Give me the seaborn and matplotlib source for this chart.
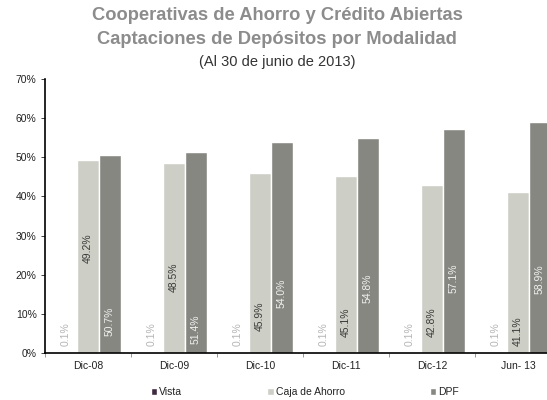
import matplotlib
matplotlib.use('Agg')
import matplotlib.pyplot as plt
import seaborn as sns
import pandas as pd
from matplotlib.ticker import FuncFormatter

periods = ['Dic-08', 'Dic-09', 'Dic-10', 'Dic-11', 'Dic-12', 'Jun- 13']
series = ['Vista', 'Caja de Ahorro', 'DPF']
vista = [0.1, 0.1, 0.1, 0.1, 0.1, 0.1]
caja = [49.2, 48.5, 45.9, 45.1, 42.8, 41.1]
dpf = [50.7, 51.4, 54.0, 54.8, 57.1, 58.9]

# where the labels sit inside the bars (value units), as in the original
label_pos = {
    'Vista': [4.9, 4.9, 4.9, 4.9, 4.9, 4.9],
    'Caja de Ahorro': [26.9, 19.4, 9.5, 7.9, 7.9, 5.6],
    'DPF': [8.2, 6.1, 15.3, 16.6, 19.2, 18.9],
}
label_colors = {'Vista': '#b4b4b4', 'Caja de Ahorro': '#3a3a3a', 'DPF': '#f0f0f0'}
palette = {'Vista': '#3f2a40', 'Caja de Ahorro': '#cdcec5', 'DPF': '#878782'}

df = pd.DataFrame({
    'periodo': periods * 3,
    'serie': ['Vista'] * 6 + ['Caja de Ahorro'] * 6 + ['DPF'] * 6,
    'valor': vista + caja + dpf,
})

sns.set_theme(style='white')
plt.rcParams['font.family'] = ['Liberation Sans', 'DejaVu Sans']

fig = plt.figure(figsize=(5.47, 4.0), dpi=100)
ax = fig.add_axes([45 / 547, 47 / 400, 516 / 547, 274 / 400])

sns.barplot(data=df, x='periodo', y='valor', hue='serie', order=periods, hue_order=series,
            palette=palette, width=0.77, saturation=1, ax=ax, legend=True)

for cont, name in zip(ax.containers, series):
    for bar, val, ypos in zip(cont, df[df.serie == name].valor, label_pos[name]):
        ax.text(bar.get_x() + bar.get_width() / 2, ypos, f'{val:.1f}%', rotation=90,
                ha='center', va='center', fontsize=7.5, color=label_colors[name])

ax.set_ylim(0, 70)
ax.set_xlim(-0.5, 5.5)
ax.set_yticks(range(0, 71, 10))
ax.yaxis.set_major_formatter(FuncFormatter(lambda v, p: f'{v:.0f}%'))
ax.set_xlabel('')
ax.set_ylabel('')
ax.set_xticks(range(6))
ax.set_xticks([i + 0.5 for i in range(-1, 6)], minor=True)
ax.tick_params(axis='x', which='major', length=0, labelsize=7.5, colors='#222222', pad=6)
ax.tick_params(axis='x', which='minor', length=3, width=0.6, color='#888888', bottom=True)
ax.tick_params(axis='y', length=3, width=0.6, labelsize=7.5, colors='#222222', left=True, pad=3)
for side in ['top', 'right']:
    ax.spines[side].set_visible(False)
for side in ['left', 'bottom']:
    ax.spines[side].set_color('black')
    ax.spines[side].set_linewidth(1.2)

handles, labels = ax.get_legend_handles_labels()
ax.get_legend().remove()
fig.legend(handles, labels, loc='center', bbox_to_anchor=(305 / 547, 1 - 392 / 400), ncol=3,
           frameon=False, fontsize=7.5, handlelength=0.6, handleheight=0.6, handletextpad=0.2,
           columnspacing=8.2, labelcolor='#222222')

fig.text(277 / 547, 1 - 16 / 400, 'Cooperativas de Ahorro y Crédito Abiertas', ha='center', va='center',
         fontsize=13.2, fontweight='bold', color='#8c8c8c')
fig.text(277 / 547, 1 - 39 / 400, 'Captaciones de Depósitos por Modalidad', ha='center', va='center',
         fontsize=13.2, fontweight='bold', color='#8c8c8c')
fig.text(277 / 547, 1 - 62 / 400, '(Al 30 de junio de 2013)', ha='center', va='center',
         fontsize=10.5, color='#333333')

fig.savefig('out.png', dpi=100)
